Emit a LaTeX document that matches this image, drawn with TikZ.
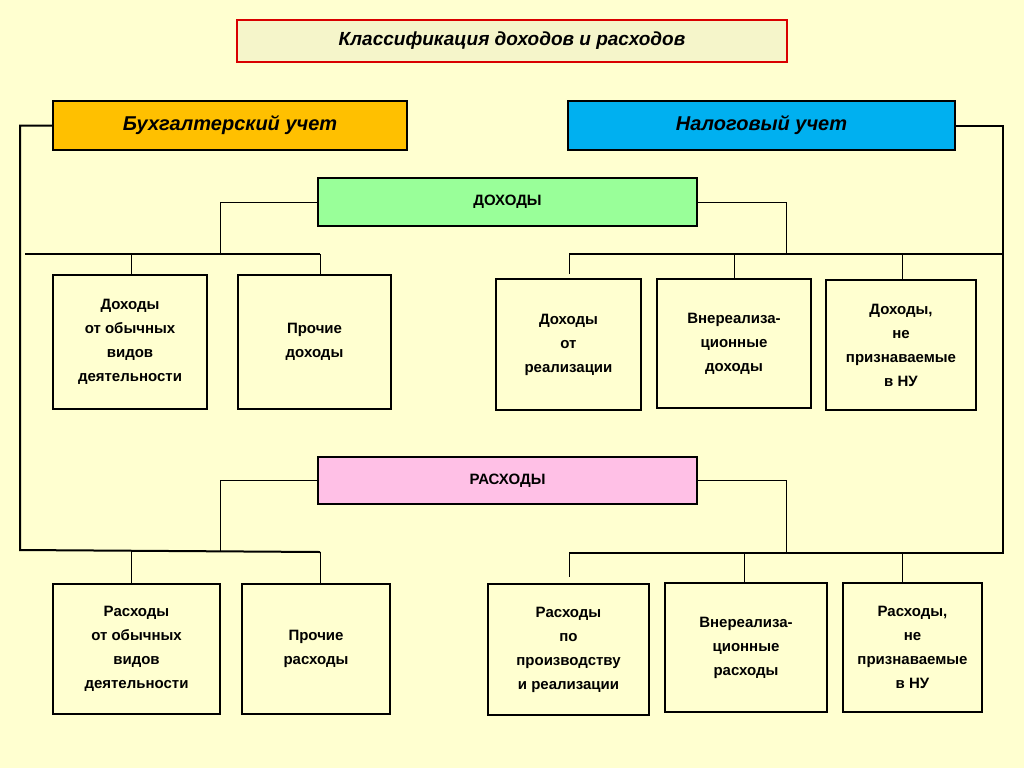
\documentclass[tikz,border=0pt]{standalone}
\usepackage{fontspec}
\setmainfont{Liberation Sans}
\begin{document}
\begin{tikzpicture}[x=1pt,y=-1pt,
  bx/.style={draw=black,line width=1.6pt,fill=bgc,align=center,font=\fontsize{15}{24}\selectfont\bfseries,inner sep=0pt},
  hd/.style={draw=black,line width=1.8pt,align=center,font=\fontsize{20}{24}\selectfont\bfseries\itshape},
  ln/.style={line width=1pt},
  bl/.style={line width=2pt}]
\definecolor{bgc}{HTML}{FFFFD0}
\fill[bgc] (0,0) rectangle (1024,768);
\useasboundingbox (0,0) rectangle (1024,768);
\newcommand\bxat[6]{\node[bx,minimum width=#4-#2,minimum height=#5-#3] (#1) at ({(#2+#4)/2},{(#3+#5)/2}) {#6};}
\node[draw=red!85!black,line width=2pt,fill=gray!8!bgc,minimum width=550,minimum height=42,font=\fontsize{19}{24}\selectfont\bfseries\itshape] (t) at (512,41) {Классификация доходов и расходов};
\node[hd,fill={rgb,255:red,255;green,192;blue,0},minimum width=354,minimum height=49] (bu) at (230,125.5) {Бухгалтерский учет};
\node[hd,fill={rgb,255:red,0;green,176;blue,240},minimum width=387,minimum height=49] (nu) at (761.5,125.5) {Налоговый учет};
\node[bx,fill={rgb,255:red,153;green,255;blue,153},minimum width=379,minimum height=48] (doh) at (507.5,202) {ДОХОДЫ};
\node[bx,fill={rgb,255:red,255;green,192;blue,230},minimum width=379,minimum height=47] (ras) at (507.5,480.5) {РАСХОДЫ};
\bxat{a}{53}{275}{207}{409}{Доходы\\от обычных\\видов\\деятельности}
\bxat{b}{238}{275}{391}{409}{Прочие\\доходы}
\bxat{c}{496}{279}{641}{410}{Доходы\\от\\реализации}
\bxat{d}{657}{279}{811}{408}{Внереализа-\\ционные\\доходы}
\bxat{e}{826}{280}{976}{410}{Доходы,\\не\\признаваемые\\в НУ}
\bxat{f}{53}{584}{220}{714}{Расходы\\от обычных\\видов\\деятельности}
\bxat{g}{242}{584}{390}{714}{Прочие\\расходы}
\bxat{h}{488}{584}{649}{715}{Расходы\\по\\производству\\и  реализации}
\bxat{i}{665}{583}{827}{712}{Внереализа-\\ционные\\расходы}
\bxat{j}{843}{583}{982}{712}{Расходы,\\не\\признаваемые\\в НУ}
% brackets
\draw[bl] (bu.west) -- (20,125.5) -- (20,550) -- (320,552);
\draw[bl] (nu.east) -- (1003,125.5) -- (1003,553) -- (569,553);
\draw[bl] (25,254) -- (320,254);
\draw[bl] (569,254) -- (1003,254);
% dohody
\draw[ln] (doh.west) -- (220,202) -- (220,254);
\draw[ln] (doh.east) -- (786,202) -- (786,254);
\draw[ln] (131,254) -- (131,275);
\draw[ln] (320,254) -- (320,275);
\draw[ln] (569,254) -- (569,274);
\draw[ln] (734,254) -- (734,279);
\draw[ln] (902,254) -- (902,280);
% rashody
\draw[ln] (ras.west) -- (220,480.5) -- (220,551);
\draw[ln] (ras.east) -- (786,480.5) -- (786,553);
\draw[ln] (131,551) -- (131,584);
\draw[ln] (320,552) -- (320,584);
\draw[ln] (569,553) -- (569,577);
\draw[ln] (744,553) -- (744,583);
\draw[ln] (902,553) -- (902,583);
\end{tikzpicture}
\end{document}
